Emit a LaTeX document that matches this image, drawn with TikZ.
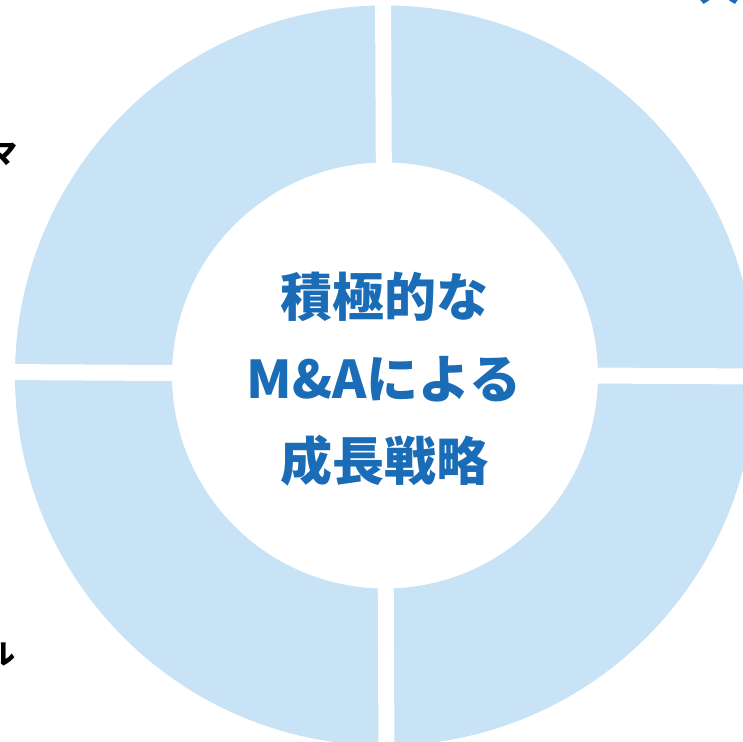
\documentclass[tikz,border=0pt]{standalone}
\usepackage{fontspec}
\newfontfamily\jpfont{Noto Sans CJK JP}
\usetikzlibrary{positioning}
\definecolor{segblue}{RGB}{200,226,246}
\definecolor{textblue}{RGB}{27,108,182}
\tikzset{segment/.style =
   {fill=segblue,
    draw=none,
    even odd rule}}
\tikzset{gapline/.style =
   {draw=white,
    line width=16pt}}
\tikzset{centertext/.style =
   {text=textblue,
    align=center,
    inner sep=0pt,
    font=\jpfont\bfseries\fontsize{52}{82}\selectfont}}
\tikzset{sidelabel/.style =
   {inner sep=0pt,
    font=\jpfont\bfseries\fontsize{28}{32}\selectfont}}
\begin{document}
\begin{tikzpicture}[x=1pt,y=-1pt]

    \clip (0,0) rectangle (743,741);

    % ring of four segments
    \coordinate (ctr) at (385,375.5);
    \fill[segment] (ctr) circle[radius=370pt]
                   (ctr) circle[radius=213pt];

    % gaps between the segments
    \coordinate (gapwest)  at (0,372);
    \coordinate (gapeast)  at (760,376.5);
    \coordinate (gapnorth) at (383,-10);
    \coordinate (gapsouth) at (386.5,760);
    \draw[gapline] (gapwest) -- (gapeast);
    \draw[gapline] (gapnorth) -- (gapsouth);

    \node[centertext] (title) at (384,379)
       {積極的な\\M\&Aによる\\成長戦略};

    % labels cut at the edges
    \node[sidelabel, anchor=east] (labelma) at (18,154) {マ};
    \node[sidelabel, anchor=east] (labelru) at (16,655) {ル};
    \node[sidelabel, text=textblue, anchor=base,
          font=\jpfont\bfseries\fontsize{44}{48}\selectfont] (labeldai) at (719,1) {大};

\end{tikzpicture}
\end{document}
